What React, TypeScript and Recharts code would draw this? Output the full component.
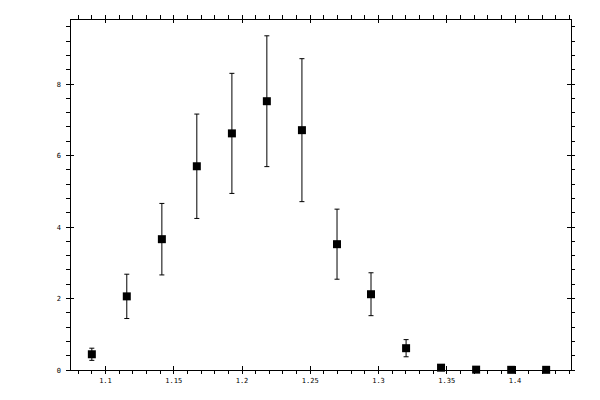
import { ErrorBar, Scatter, ScatterChart, XAxis, YAxis } from 'recharts'

// measured peak, one point per bin
const xValues = [1.09, 1.1156, 1.1413, 1.1669, 1.1926, 1.2182, 1.2439, 1.2696, 1.2945, 1.3202, 1.3458, 1.3715, 1.3972, 1.4228]
const yValues = [0.44, 2.06, 3.66, 5.7, 6.62, 7.52, 6.71, 3.52, 2.12, 0.61, 0.065, 0.01, 0.005, 0.005]
const yErrors = [0.17, 0.62, 1.0, 1.46, 1.68, 1.83, 2.0, 0.98, 0.6, 0.24, 0, 0, 0, 0]

const xMajorTicks = [1.1, 1.15, 1.2, 1.25, 1.3, 1.35, 1.4]
const xMajorLabels = ['1.1', '1.15', '1.2', '1.25', '1.3', '1.35', '1.4']
const yMajorTicks = [0, 2, 4, 6, 8]
const yMajorLabels = ['0', '2', '4', '6', '8']

const xDomain = [1.074, 1.441]
const yDomain = [0, 9.82]

// minor ticks every 0.01 on x and 0.4 on y
const xTicks: number[] = []
for (let i = 108; i <= 144; i++) xTicks.push(i / 100)
const yTicks: number[] = []
for (let i = 0; i <= 24; i++) yTicks.push(Math.round(i * 4) / 10)

const data = xValues.map((x, i) => ({ x, y: yValues[i], err: yErrors[i] }))

const font = 'DejaVu Sans Mono'
const near = (a: number, b: number) => Math.abs(a - b) < 1e-6
const xMajorIndex = (v: number) => xMajorTicks.findIndex((t) => near(t, v))
const yMajorIndex = (v: number) => yMajorTicks.findIndex((t) => near(t, v))

function BottomTick({ x, y, payload }: any) {
  const i = xMajorIndex(payload.value)
  return (
    <g>
      <path d={`M${x},${i >= 0 ? y - 4 : y}V${y + 4}`} stroke="#000" fill="none" shapeRendering="crispEdges" />
      {i >= 0 && (
        <text x={x} y={y + 13} textAnchor="middle" fontSize={7} fontFamily={font} fill="#000">
          {xMajorLabels[i]}
        </text>
      )}
    </g>
  )
}

function TopTick({ x, y, payload }: any) {
  const major = xMajorIndex(payload.value) >= 0
  return (
    <g>
      <path d={`M${x},${y - 4}V${major ? y + 4 : y}`} stroke="#000" fill="none" shapeRendering="crispEdges" />
    </g>
  )
}

function LeftTick({ x, y, payload }: any) {
  const i = yMajorIndex(payload.value)
  return (
    <g>
      <path d={`M${x - 4},${y}H${i >= 0 ? x + 4 : x}`} stroke="#000" fill="none" shapeRendering="crispEdges" />
      {i >= 0 && (
        <text x={x - 9} y={y + 2.5} textAnchor="end" fontSize={7} fontFamily={font} fill="#000">
          {yMajorLabels[i]}
        </text>
      )}
    </g>
  )
}

function RightTick({ x, y, payload }: any) {
  const major = yMajorIndex(payload.value) >= 0
  return (
    <g>
      <path d={`M${major ? x - 4 : x},${y}H${x + 4}`} stroke="#000" fill="none" shapeRendering="crispEdges" />
    </g>
  )
}

const axisLine = { stroke: '#000', shapeRendering: 'crispEdges' }

export default function App() {
  return (
    <div style={{ position: 'absolute', left: 0, top: 0, background: '#fff' }}>
      <ScatterChart width={600} height={400} margin={{ top: 0, right: 0, bottom: 0, left: 0 }}>
        <XAxis
          dataKey="x"
          type="number"
          domain={xDomain}
          ticks={xTicks}
          interval={0}
          height={30}
          tickSize={0}
          tickMargin={0}
          tickLine={false}
          axisLine={axisLine}
          tick={<BottomTick />}
        />
        <XAxis
          xAxisId="top"
          dataKey="x"
          orientation="top"
          type="number"
          domain={xDomain}
          ticks={xTicks}
          interval={0}
          height={19}
          tickSize={0}
          tickMargin={0}
          tickLine={false}
          axisLine={axisLine}
          tick={<TopTick />}
        />
        <YAxis
          dataKey="y"
          type="number"
          domain={yDomain}
          ticks={yTicks}
          interval={0}
          width={70}
          tickSize={0}
          tickMargin={0}
          tickLine={false}
          axisLine={axisLine}
          tick={<LeftTick />}
        />
        <YAxis
          yAxisId="right"
          dataKey="y"
          orientation="right"
          type="number"
          domain={yDomain}
          ticks={yTicks}
          interval={0}
          width={29}
          tickSize={0}
          tickMargin={0}
          tickLine={false}
          axisLine={axisLine}
          tick={<RightTick />}
        />
        {/* invisible copy so the frame axes get a scale */}
        <Scatter data={data} xAxisId="top" yAxisId="right" shape={() => <g />} isAnimationActive={false} />
        <Scatter data={data} shape="square" fill="#000" isAnimationActive={false}>
          <ErrorBar dataKey="err" direction="y" width={2.5} stroke="#000" strokeWidth={1} isAnimationActive={false} />
        </Scatter>
      </ScatterChart>
    </div>
  )
}
